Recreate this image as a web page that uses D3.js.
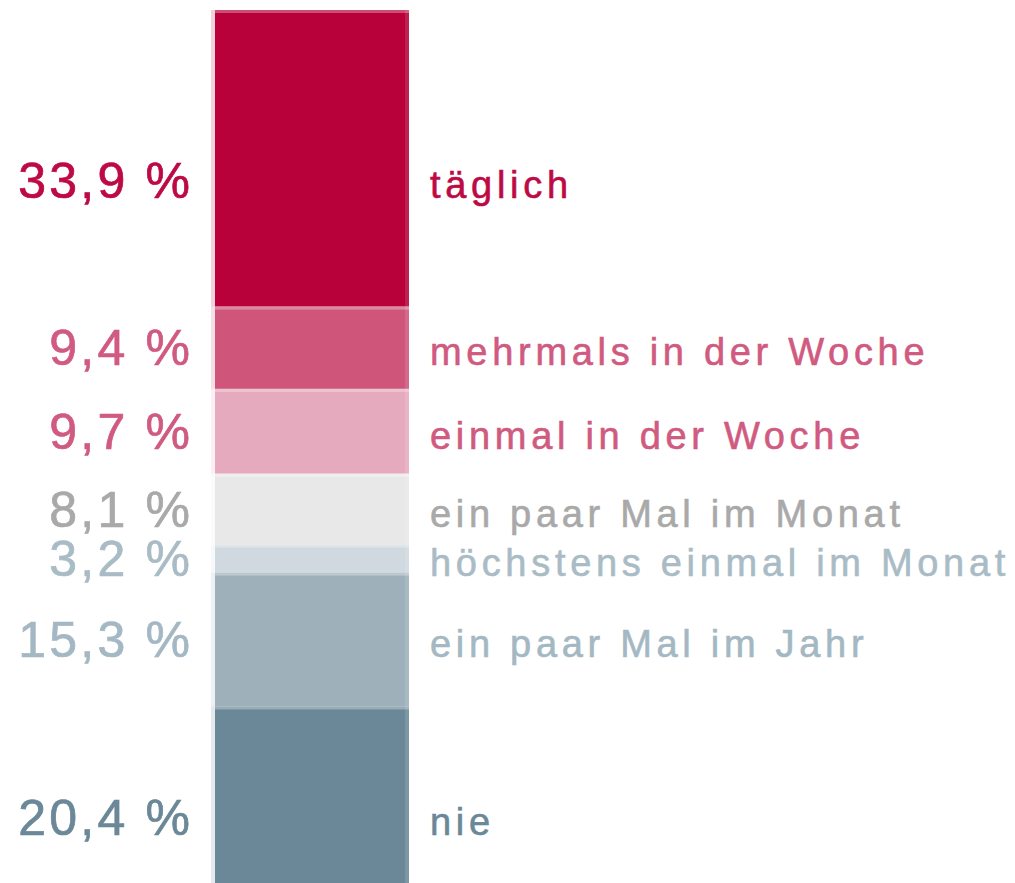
<!DOCTYPE html>
<html>
<head>
<meta charset="utf-8">
<script src="https://cdn.jsdelivr.net/npm/d3@7"></script>
<style>
  body { margin: 0; background: #fff; }
  text { font-family: "Liberation Sans", Arial, sans-serif; }
</style>
</head>
<body>
<div id="frequency_chart"></div>
<script>
// Chart data
const categories = ["täglich", "mehrmals in der Woche", "einmal in der Woche",
                    "ein paar Mal im Monat", "höchstens einmal im Monat",
                    "ein paar Mal im Jahr", "nie"]
const shares = [33.9, 9.4, 9.7, 8.1, 3.2, 15.3, 20.4]
const valueLabels = ["33,9 %", "9,4 %", "9,7 %", "8,1 %", "3,2 %", "15,3 %", "20,4 %"]

const WIDTH = 1015
const HEIGHT = 883
const BAR = {left: 211, edge: 4, right: 409, top: 10, bottom: 885}
const FILLS = ["#b8003a", "#cf557b", "#e6aabe", "#e8e8e8", "#d0d9df", "#9eb0ba", "#6a8898"]
const TEXT_COLORS = ["#bd0a44", "#d05a80", "#d05a80", "#a9a9a9", "#a9bcc6", "#a4b8c3", "#6a8898"]
// the biggest segments have their labels a bit below the middle
const LABEL_SHIFT = {"täglich": 22, "nie": 22}

/*********************************************
// Data Manipulation
*********************************************/
function stackRows() {
  let acc = 0
  return categories.map((cat, i) => {
    const row = {cat: cat, value: shares[i], label: valueLabels[i], i: i, y0: acc, y1: acc + shares[i]}
    acc += shares[i]
    return row
  })
}

/*********************************************
// SVG Drawing functions
*********************************************/
function drawBar(svg, rows, y) {
  const g = svg.append("g").classed("bar", true)

  // faint anti-aliased left edge
  g.selectAll("rect.edge")
    .data(rows).enter()
    .append("rect")
    .classed("edge", true)
    .attr("x", BAR.left)
    .attr("width", BAR.edge)
    .attr("y", (d) => y(d.y0))
    .attr("height", (d) => y(d.y1) - y(d.y0))
    .attr("fill", (d) => FILLS[d.i])
    .attr("fill-opacity", 0.18)

  g.selectAll("rect.segment")
    .data(rows).enter()
    .append("rect")
    .classed("segment", true)
    .attr("x", BAR.left + BAR.edge)
    .attr("width", BAR.right - BAR.left - BAR.edge)
    .attr("y", (d) => y(d.y0))
    .attr("height", (d) => y(d.y1) - y(d.y0))
    .attr("fill", (d) => FILLS[d.i])

  // light seams between the segments
  g.selectAll("rect.seam")
    .data(rows).enter()
    .append("rect")
    .classed("seam", true)
    .attr("x", BAR.left + BAR.edge)
    .attr("width", BAR.right - BAR.left - BAR.edge)
    .attr("y", (d) => y(d.y0))
    .attr("height", 3)
    .attr("fill", "#fff")
    .attr("fill-opacity", 0.3)

  g.selectAll("rect.right-edge")
    .data(rows).enter()
    .append("rect")
    .classed("right-edge", true)
    .attr("x", BAR.right - 4)
    .attr("width", 4)
    .attr("y", (d) => y(d.y0))
    .attr("height", (d) => y(d.y1) - y(d.y0))
    .attr("fill", "#fff")
    .attr("fill-opacity", 0.12)
}

function baseline(d, y) {
  const mid = (y(d.y0) + y(d.y1)) / 2 + (LABEL_SHIFT[d.cat] || 0)
  return mid + 17.5
}

function drawLabels(svg, rows, y) {
  const textSvg = svg.append("g").classed("labels", true)
  const valueSpacing = 3.2
  const catSpacing = 4.7

  textSvg.selectAll("text.value-label")
    .data(rows).enter()
    .append("text")
    .classed("value-label", true)
    .text((d) => d.label)
    .attr("x", 190 + valueSpacing)
    .attr("y", (d) => baseline(d, y))
    .attr("text-anchor", "end")
    .attr("font-size", 50)
    .attr("letter-spacing", valueSpacing)
    .attr("fill", (d) => TEXT_COLORS[d.i])
    .attr("stroke", (d) => TEXT_COLORS[d.i])
    .attr("stroke-width", 0.7)

  textSvg.selectAll("text.cat-label")
    .data(rows).enter()
    .append("text")
    .classed("cat-label", true)
    .text((d) => d.cat)
    .attr("x", 430)
    .attr("y", (d) => baseline(d, y))
    .attr("font-size", 38)
    .attr("letter-spacing", catSpacing)
    .attr("fill", (d) => TEXT_COLORS[d.i])
    .attr("stroke", (d) => TEXT_COLORS[d.i])
    .attr("stroke-width", 0.6)
}

function draw() {
  const rows = stackRows()
  const y = d3.scaleLinear()
    .domain([0, d3.sum(shares)])
    .range([BAR.top, BAR.bottom])

  const svg = d3.select("#frequency_chart")
    .append("svg")
    .attr("width", WIDTH)
    .attr("height", HEIGHT)

  drawBar(svg, rows, y)
  drawLabels(svg, rows, y)
}

draw()
</script>
</body>
</html>
